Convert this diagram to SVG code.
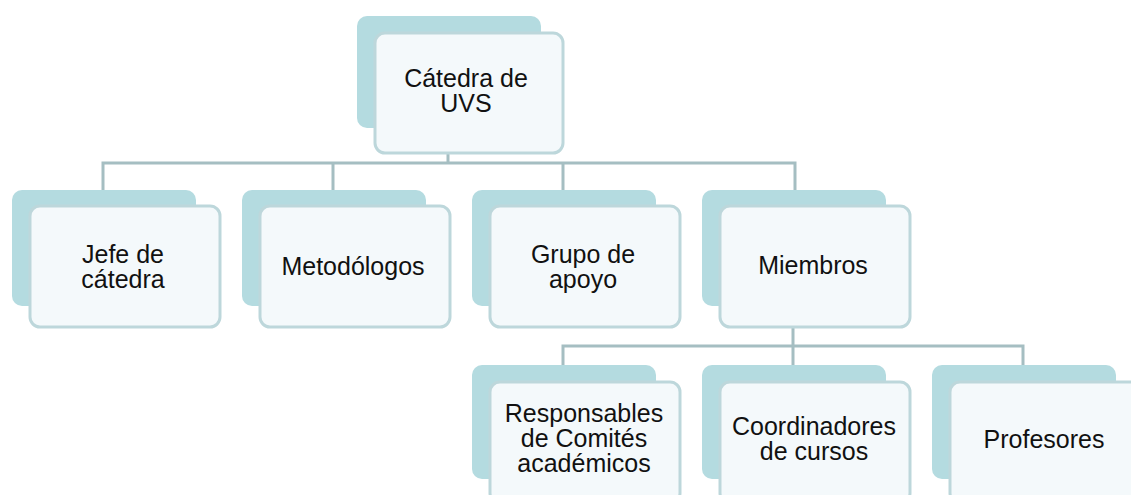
<svg xmlns="http://www.w3.org/2000/svg" width="1131" height="495" viewBox="0 0 1131 495">
<style>
.back{fill:#b4dbe0;}
.front{fill:#f4f9fb;stroke:#bdd7db;stroke-width:3;}
.conn{fill:none;stroke:#a5bec2;stroke-width:3;}
text{font-family:"Liberation Sans",Arial,sans-serif;font-size:25px;fill:#111;text-anchor:middle;}
</style>
<rect width="1131" height="495" fill="#ffffff"/>
<g id="connectors">
<path class="conn" d="M448 153V163M103 190V163H795V190M333 163V190M563 163V190"/>
<path class="conn" d="M793 327V346M563 365V346H1023V365M793 346V365"/>
</g>
<g id="n-catedra">
<rect class="back" x="357" y="16" width="184" height="112" rx="10"/>
<rect class="front" x="375" y="33" width="188" height="120" rx="10"/>
<text x="466" y="87">Cátedra de<tspan x="466" dy="25">UVS</tspan></text>
</g>
<g id="n-jefe">
<rect class="back" x="12" y="190" width="184" height="116" rx="10"/>
<rect class="front" x="30" y="206" width="190" height="121" rx="10"/>
<text x="123" y="263">Jefe de<tspan x="123" dy="25">cátedra</tspan></text>
</g>
<g id="n-metod">
<rect class="back" x="242" y="190" width="184" height="116" rx="10"/>
<rect class="front" x="260" y="206" width="190" height="121" rx="10"/>
<text x="353" y="275">Metodólogos</text>
</g>
<g id="n-grupo">
<rect class="back" x="472" y="190" width="184" height="116" rx="10"/>
<rect class="front" x="490" y="206" width="190" height="121" rx="10"/>
<text x="583" y="263">Grupo de<tspan x="583" dy="25">apoyo</tspan></text>
</g>
<g id="n-miembros">
<rect class="back" x="702" y="190" width="184" height="116" rx="10"/>
<rect class="front" x="720" y="206" width="190" height="121" rx="10"/>
<text x="813" y="274">Miembros</text>
</g>
<g id="n-resp">
<rect class="back" x="472" y="365" width="184" height="114" rx="10"/>
<rect class="front" x="490" y="382" width="190" height="121" rx="10"/>
<text x="584" y="422">Responsables<tspan x="584" dy="25">de Comités</tspan><tspan x="584" dy="25">académicos</tspan></text>
</g>
<g id="n-coord">
<rect class="back" x="702" y="365" width="184" height="114" rx="10"/>
<rect class="front" x="720" y="382" width="190" height="121" rx="10"/>
<text x="814" y="435">Coordinadores<tspan x="814" dy="25">de cursos</tspan></text>
</g>
<g id="n-prof">
<rect class="back" x="932" y="365" width="184" height="114" rx="10"/>
<rect class="front" x="950" y="382" width="190" height="121" rx="10"/>
<text x="1044" y="448">Profesores</text>
</g>
</svg>
